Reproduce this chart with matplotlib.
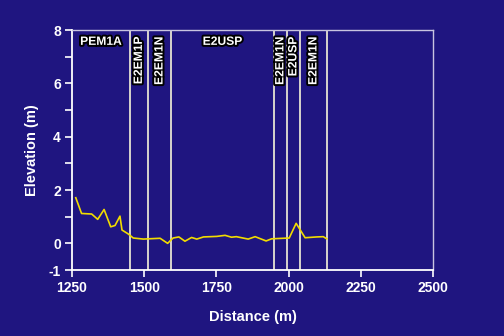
import matplotlib
matplotlib.use("Agg")
import matplotlib.pyplot as plt
import matplotlib.patheffects as pe

# profile data
distancia = [1263, 1283, 1318, 1339, 1361, 1384, 1399, 1416, 1423, 1445, 1462,
             1497, 1555, 1581, 1600, 1620, 1641, 1664, 1682, 1705, 1751, 1780,
             1802, 1819, 1860, 1884, 1922, 1941, 2002, 2026, 2057, 2097, 2120, 2132]
elevacion = [1.71, 1.12, 1.10, 0.90, 1.27, 0.62, 0.67, 1.02, 0.50, 0.35, 0.20,
             0.16, 0.19, 0.00, 0.20, 0.24, 0.08, 0.22, 0.16, 0.24, 0.26, 0.30,
             0.23, 0.25, 0.16, 0.25, 0.09, 0.17, 0.20, 0.75, 0.21, 0.24, 0.25, 0.17]

limites = [1450, 1513, 1593, 1949, 1994, 2039, 2133]
zonas = ["PEM1A", "E2EM1P", "E2EM1N", "E2USP", "E2EM1N", "E2USP", "E2EM1N"]
zonas_rotadas = [False, True, True, False, True, True, True]

fondo = "#1f1580"
blanco = "white"

plt.rcParams["font.family"] = ["Liberation Sans", "DejaVu Sans"]
plt.rcParams["font.weight"] = "bold"

fig = plt.figure(figsize=(5.04, 3.36), dpi=100, facecolor=fondo)
ax = fig.add_axes([0.1429, 0.1964, 0.7163, 0.7143], facecolor=fondo)

for x in limites:
    ax.plot([x, x], [-1, 8], color="#e6e2d2", lw=1.3, zorder=2)

ax.plot(distancia, elevacion, color="#f2dc00", lw=1.2, zorder=3)

# labels centered in each section
bordes = [1250] + limites
contorno = [pe.withStroke(linewidth=2.8, foreground="black")]
for k, nombre in enumerate(zonas):
    xc = (bordes[k] + bordes[k + 1]) / 2
    if zonas_rotadas[k]:
        ax.text(xc, 7.75, nombre, rotation=90, ha="center", va="top",
                color=blanco, fontsize=8.7, fontweight="bold",
                path_effects=contorno, zorder=4)
    else:
        ax.text(xc, 7.78, nombre, ha="center", va="top",
                color=blanco, fontsize=8.7, fontweight="bold",
                path_effects=contorno, zorder=4)

ax.set_xlim(1250, 2500)
ax.set_ylim(-1, 8)
ax.set_xticks([1250, 1500, 1750, 2000, 2250, 2500])
ax.set_yticks(range(-1, 9))
ax.set_yticklabels(["-1", "0", "", "2", "", "4", "", "6", "", "8"])

ax.tick_params(colors=blanco, labelsize=10, length=5, width=1.2, pad=3)
for lbl in ax.get_xticklabels() + ax.get_yticklabels():
    lbl.set_fontweight("bold")

for lado in ["left", "bottom"]:
    ax.spines[lado].set_color(blanco)
    ax.spines[lado].set_linewidth(1.3)
for lado in ["top", "right"]:
    ax.spines[lado].set_color("#c8c4e0")
    ax.spines[lado].set_linewidth(1.0)

ax.set_xlabel("Distance (m)", color=blanco, fontsize=10.5, fontweight="bold", labelpad=11)
ax.set_ylabel("Elevation (m)", color=blanco, fontsize=10.5, fontweight="bold", labelpad=7)

fig.savefig("out.png", dpi=100, facecolor=fondo)
